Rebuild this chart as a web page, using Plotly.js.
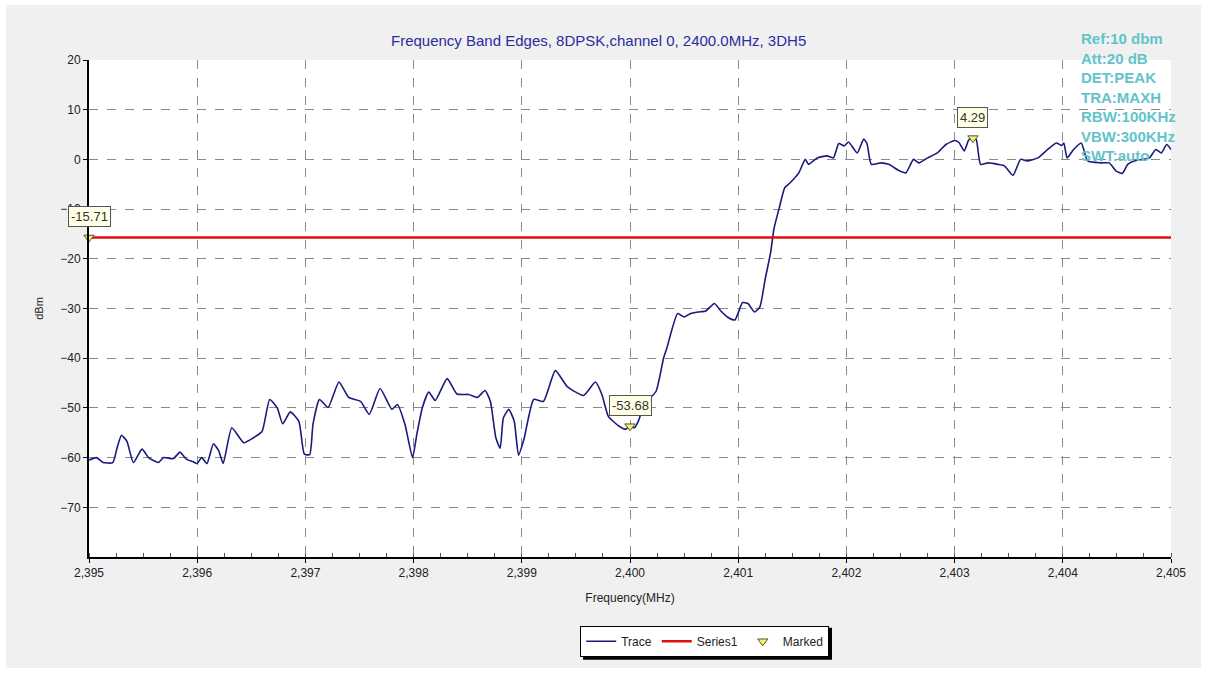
<!DOCTYPE html>
<html>
<head>
<meta charset="utf-8">
<script src="https://cdn.plot.ly/plotly-3.0.1.min.js"></script>
<style>
html,body{margin:0;padding:0;background:#ffffff;width:1205px;height:673px;overflow:hidden;}
#chart{position:absolute;left:6px;top:5px;width:1195px;height:663px;}
</style>
</head>
<body>
<div id="chart"></div>
<script>
// Trace (frequency in MHz, level in dBm)
const freq = [2395.00,2395.07,2395.13,2395.22,2395.26,2395.30,2395.35,2395.41,2395.49,2395.55,2395.64,2395.69,2395.78,2395.84,2395.90,2395.96,
2396.00,2396.04,2396.09,2396.15,2396.20,2396.24,2396.32,2396.43,2396.52,2396.60,2396.67,2396.74,2396.79,2396.86,2396.94,2396.99,
2397.04,2397.07,2397.13,2397.21,2397.31,2397.40,2397.51,2397.59,2397.69,2397.80,2397.85,2397.92,2397.99,
2398.03,2398.08,2398.14,2398.20,2398.31,2398.40,2398.51,2398.59,2398.66,2398.71,2398.76,2398.80,2398.83,2398.88,2398.93,2398.97,
2399.02,2399.11,2399.20,2399.31,2399.42,2399.57,2399.68,2399.74,2399.80,2399.90,2399.96,
2400.00,2400.04,2400.08,2400.13,2400.24,2400.31,2400.34,2400.44,2400.50,2400.56,2400.63,2400.70,2400.78,2400.84,2400.90,2400.97,
2401.04,2401.09,2401.15,2401.20,2401.25,2401.30,2401.33,2401.38,2401.43,2401.48,2401.56,2401.62,2401.65,2401.73,2401.82,2401.88,2401.93,2401.98,
2402.02,2402.10,2402.16,2402.19,2402.23,2402.32,2402.39,2402.49,2402.55,2402.62,2402.67,2402.75,2402.84,2402.92,
2403.00,2403.04,2403.09,2403.13,2403.17,2403.20,2403.24,2403.31,2403.40,2403.46,2403.54,2403.61,2403.67,2403.77,2403.86,2403.94,2403.99,
2404.01,2404.04,2404.10,2404.17,2404.23,2404.35,2404.43,2404.49,2404.55,2404.60,2404.66,2404.74,2404.80,2404.86,2404.91,2404.96,2405.00];
const level = [-60.5,-60,-61,-61,-58,-55.5,-56.7,-61,-58.3,-60,-61,-60,-60.2,-58.9,-60.3,-60.8,
-61.2,-60,-61.2,-57.2,-58.7,-61.2,-54,-57,-56,-54.7,-48.3,-50,-53.2,-50.8,-52.7,-59.3,
-59.4,-53.3,-48.3,-49.9,-44.8,-47.9,-48.7,-51.3,-46.1,-50.3,-49.3,-53.3,-60,
-55.3,-50,-46.8,-48.5,-44.1,-47.2,-47.3,-47.9,-46.5,-48.7,-56,-58.1,-52,-50.3,-52.7,-59.5,
-56.3,-48.3,-48.7,-42.5,-45.7,-47.5,-44.8,-47.3,-51.7,-53.7,-54.3,
-53.7,-54,-52.5,-49.3,-46.7,-40,-38,-31,-31.7,-31,-30.7,-30.5,-29,-30.5,-31.7,-32.3,
-28.8,-29,-30.7,-29.7,-24,-18.7,-14,-9.7,-5.7,-4.7,-2.7,0,-1,0.3,0.7,0.3,3.2,2.7,
3.5,1.3,4.1,3.2,-1,-0.7,-1,-2.3,-2.7,0,-0.7,0.3,1.3,3,
3.8,3.4,1.7,3.9,4.29,4,-1,-0.7,-1,-1.3,-3.2,0,-0.3,0.3,2,3.3,2.8,
3.3,0.3,2,3.3,-0.3,-0.7,-0.7,-2.3,-2.8,-1,-0.3,0,0.3,2,1.3,3,2];

// Limit line (Series1)
const limitFreq = [2395, 2405];
const limitLevel = [-15.71, -15.71];

// Marked points
const markFreq = [2395.0, 2400.0, 2403.17];
const markLevel = [-15.71, -53.68, 4.29];
const markLabels = ["-15.71", "-53.68", "4.29"];

// Axis ticks
const xTicks = [2395, 2396, 2397, 2398, 2399, 2400, 2401, 2402, 2403, 2404, 2405];
const yTicks = [20, 10, 0, -10, -20, -30, -40, -50, -60, -70];

const titleText = "Frequency Band Edges, 8DPSK,channel 0, 2400.0MHz, 3DH5";
const infoLines = ["Ref:10 dbm", "Att:20 dB", "DET:PEAK", "TRA:MAXH", "RBW:100KHz", "VBW:300KHz", "SWT:auto"];

const FONT = "Liberation Sans, Arial, sans-serif";

const traces = [
  {x: freq, y: level, type: 'scatter', mode: 'lines', name: 'Trace',
   line: {color: '#1a1a7e', width: 1.6, shape: 'spline', smoothing: 0.5}},
  {x: limitFreq, y: limitLevel, type: 'scatter', mode: 'lines', name: 'Series1',
   line: {color: '#e01010', width: 2.5}},
  {x: markFreq, y: markLevel, type: 'scatter', mode: 'markers', name: 'Marked',
   marker: {symbol: 'triangle-down', size: 9, color: '#f2ee70', line: {color: '#555533', width: 1}}, cliponaxis: false}
];

const annotations = markFreq.map((f, i) => ({
  x: f, y: markLevel[i], xref: 'x', yref: 'y', text: markLabels[i], showarrow: false,
  yshift: 21, font: {family: FONT, size: 13, color: '#333333'},
  bgcolor: '#ffffe6', bordercolor: '#555555', borderwidth: 1, borderpad: 2
}));
annotations.push({
  xref: 'paper', yref: 'paper', x: 0.915, y: 1.065, xanchor: 'left', yanchor: 'top', align: 'left',
  text: infoLines.join('<br>'), showarrow: false,
  font: {family: FONT, size: 15, color: '#62c4ca', weight: 'bold'}
});

const layout = {
  width: 1195, height: 663,
  paper_bgcolor: '#f0f0f0', plot_bgcolor: '#ffffff',
  margin: {l: 83, r: 30, t: 55, b: 110},
  title: {text: titleText, font: {family: FONT, size: 15, color: '#2b2ba0'},
          xref: 'paper', x: 0.471, xanchor: 'center', yref: 'container', y: 1 - 36/663, yanchor: 'middle'},
  showlegend: true,
  legend: {orientation: 'h', x: 0.454, xanchor: 'left', y: -0.136, yanchor: 'top',
           bgcolor: '#ffffff', bordercolor: '#000000', borderwidth: 1,
           font: {family: FONT, size: 12, color: '#222222'}, itemwidth: 30},
  shapes: [{type: 'rect', xref: 'paper', yref: 'paper', layer: 'above',
            x0: 0.4566, x1: 0.6867, y0: -0.2068, y1: -0.1426,
            fillcolor: '#000000', line: {width: 0}}],
  xaxis: {range: [2395, 2405], tickvals: xTicks, separatethousands: true, tickformat: ',d',
          showgrid: true, gridcolor: '#8a8a8a', griddash: 'dash', gridwidth: 1,
          showline: true, linecolor: '#000000', linewidth: 2, zeroline: false,
          ticks: 'outside', ticklen: 4, tickcolor: '#000000',
          minor: {dtick: 0.25, tick0: 2395, ticks: 'inside', ticklen: 4, tickcolor: '#555555', showgrid: false},
          tickfont: {family: FONT, size: 12, color: '#222222'},
          title: {text: 'Frequency(MHz)', font: {family: FONT, size: 12, color: '#222222'}, standoff: 14}},
  yaxis: {range: [-80, 20], tickvals: yTicks,
          showgrid: true, gridcolor: '#8a8a8a', griddash: 'dash', gridwidth: 1,
          showline: true, linecolor: '#000000', linewidth: 2, zeroline: false,
          ticks: 'outside', ticklen: 4, tickcolor: '#000000',
          tickfont: {family: FONT, size: 12, color: '#222222'},
          title: {text: 'dBm', font: {family: FONT, size: 11, color: '#222222'}, standoff: 14}},
  annotations: annotations
};

Plotly.newPlot('chart', traces, layout, {displayModeBar: false, staticPlot: true});
</script>
</body>
</html>
